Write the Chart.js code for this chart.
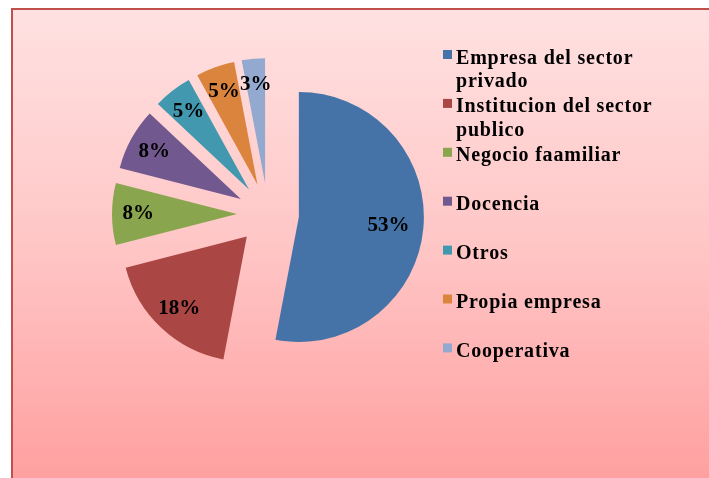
<!DOCTYPE html>
<html><head><meta charset="utf-8">
<script src="https://cdn.jsdelivr.net/npm/chart.js@4.4.0/dist/chart.umd.min.js"></script>
<style>html,body{margin:0;padding:0;background:#fff;overflow:hidden}#wrap{position:relative;width:709px;height:478px;}</style>
</head><body><div id="wrap"><canvas id="c" width="709" height="478"></canvas></div>
<script>
const categories = [["Empresa del sector", "privado"], ["Institucion del sector", "publico"], ["Negocio faamiliar"], ["Docencia"], ["Otros"], ["Propia empresa"], ["Cooperativa"]];
const values = [53, 18, 8, 8, 5, 5, 3];
const percentLabels = ["53%", "18%", "8%", "8%", "5%", "5%", "3%"];
const colors = ["#4572A7", "#AA4643", "#89A54E", "#71588F", "#4198AF", "#DB843D", "#93A9CF"];

const EXPLODE = 31;
const FONT = 'bold 20px "Liberation Serif", "DejaVu Serif", serif';
const LABEL_FONT = 'bold 21px "Liberation Serif", "DejaVu Serif", serif';

const bgPlugin = {
  id: 'bg',
  beforeDraw(chart) {
    const ctx = chart.ctx;
    ctx.save();
    ctx.fillStyle = '#ffffff';
    ctx.fillRect(0, 0, chart.width, chart.height);
    const g = ctx.createLinearGradient(0, 10, 0, chart.height);
    g.addColorStop(0, '#FFE1E1');
    g.addColorStop(0.5, '#FFC6C6');
    g.addColorStop(1, '#FFA0A0');
    ctx.fillStyle = g;
    ctx.fillRect(13, 10, chart.width - 13, chart.height - 10);
    ctx.fillStyle = '#C0504D';
    ctx.fillRect(11, 8, 2, chart.height - 8);
    ctx.fillRect(11, 8, chart.width - 11, 2);
    ctx.restore();
  }
};

const explodePlugin = {
  id: 'explode',
  beforeDatasetDraw(chart, args) {
    const ctx = chart.ctx;
    args.meta.data.forEach(arc => {
      const mid = (arc.startAngle + arc.endAngle) / 2;
      ctx.save();
      ctx.translate(Math.cos(mid) * EXPLODE, Math.sin(mid) * EXPLODE);
      arc.draw(ctx);
      ctx.restore();
    });
    return false;
  },
  afterDatasetsDraw(chart) {
    const ctx = chart.ctx;
    const meta = chart.getDatasetMeta(0);
    ctx.save();
    ctx.font = LABEL_FONT;
    ctx.fillStyle = '#000';
    ctx.textAlign = 'center';
    ctx.textBaseline = 'middle';
    meta.data.forEach((arc, i) => {
      const mid = (arc.startAngle + arc.endAngle) / 2;
      const frac = (arc.endAngle - arc.startAngle) > Math.PI ? 0.72 : 0.79;
      const r = EXPLODE + arc.outerRadius * frac;
      ctx.fillText(percentLabels[i], arc.x + Math.cos(mid) * r, arc.y + Math.sin(mid) * r);
    });
    ctx.restore();
  }
};

const legendPlugin = {
  id: 'customLegend',
  afterDraw(chart) {
    const ctx = chart.ctx;
    ctx.save();
    ctx.font = FONT;
    try { ctx.letterSpacing = '0.8px'; } catch (e) {}
    ctx.textAlign = 'left';
    ctx.textBaseline = 'alphabetic';
    categories.forEach((lines, i) => {
      const y = 63.5 + i * 48.9;
      ctx.fillStyle = colors[i];
      ctx.fillRect(443, y - 13.5, 9, 9);
      ctx.fillStyle = '#000';
      lines.forEach((t, j) => ctx.fillText(t, 456, y + j * 23.5));
    });
    ctx.restore();
  }
};

new Chart(document.getElementById('c'), {
  type: 'pie',
  data: {
    labels: categories,
    datasets: [{ data: values, backgroundColor: colors, borderWidth: 0 }]
  },
  options: {
    responsive: false,
    animation: false,
    events: [],
    radius: 125,
    layout: { padding: { left: 0, right: 173, top: 0, bottom: 50 } },
    plugins: { legend: { display: false }, tooltip: { enabled: false } }
  },
  plugins: [bgPlugin, explodePlugin, legendPlugin]
});
</script>
</body></html>
